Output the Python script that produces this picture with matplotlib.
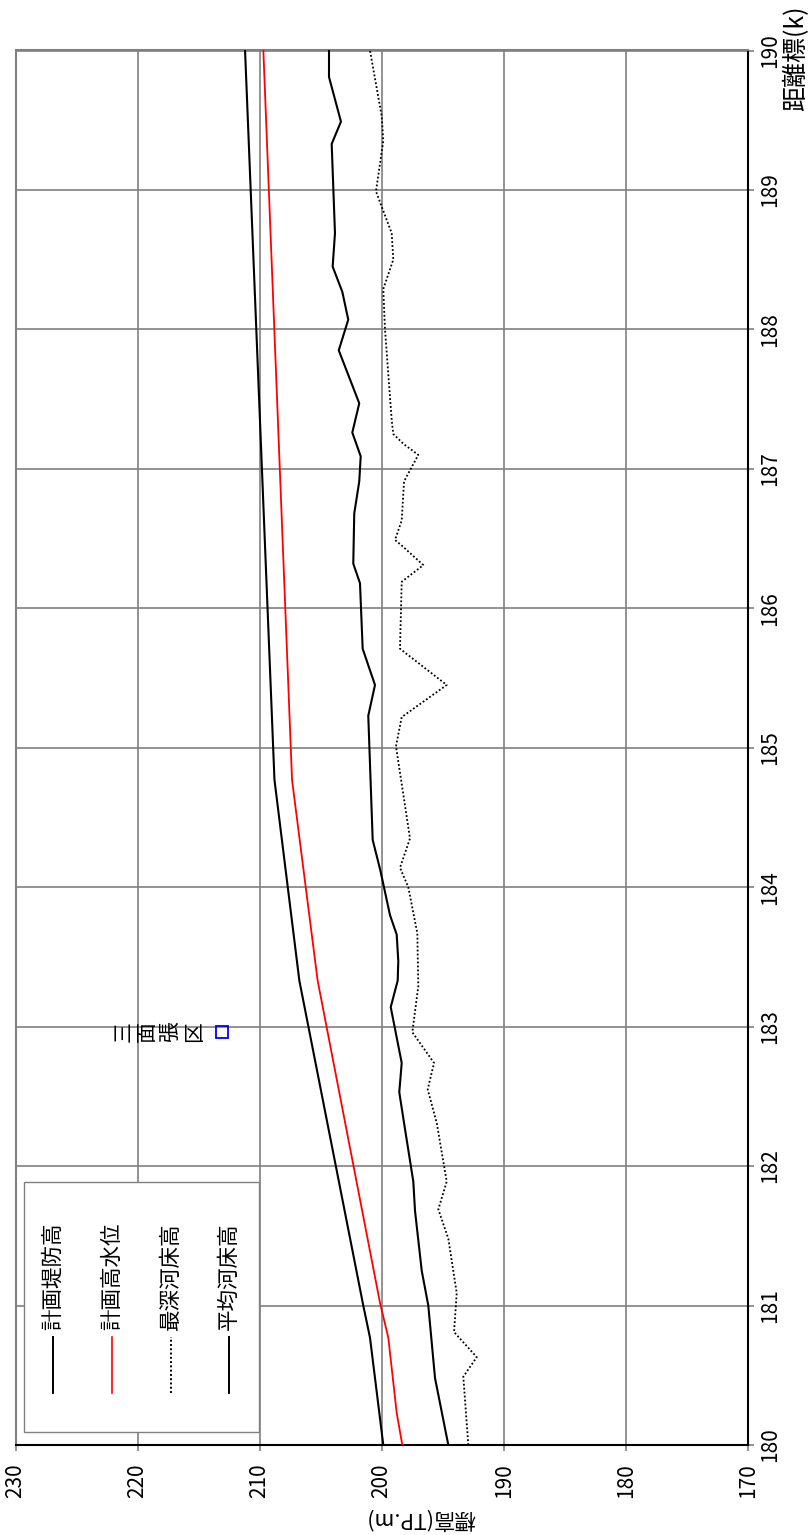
import matplotlib
matplotlib.use("Agg")
import matplotlib.pyplot as plt
from matplotlib.lines import Line2D
from matplotlib.patches import Rectangle
from matplotlib.transforms import offset_copy

plt.rcParams['font.family'] = ['Noto Sans CJK JP', 'DejaVu Sans']

# ---------------------------
# 縦断図データ (距離標 k / 標高 TP.m)
# ---------------------------
levee_km = [180.0, 180.77, 181.0, 183.33, 184.77, 190.0]
levee_el = [199.87, 200.96, 201.51, 206.75, 208.79, 211.20]

hwl_km = [180.0, 180.23, 180.77, 181.02, 183.33, 184.77, 190.0]
hwl_el = [198.31, 198.77, 199.46, 200.14, 205.25, 207.35, 209.70]

deep_km = [180.0, 180.49, 180.63, 180.81, 181.09, 181.48, 181.69, 181.89,
           182.31, 182.55, 182.74, 182.96, 183.29, 183.67, 184.0, 184.14,
           184.35, 185.01, 185.22, 185.45, 185.71, 186.19, 186.31, 186.44,
           186.49, 186.63, 186.91, 186.99, 187.10, 187.18, 187.25, 187.35,
           188.0, 188.29, 188.50, 188.69, 188.88, 188.99, 189.35, 189.53, 190.0]
deep_el = [192.90, 193.31, 192.21, 194.07, 193.85, 194.54, 195.36, 194.67,
           195.49, 196.23, 195.71, 197.49, 197.00, 197.08, 197.82, 198.50,
           197.68, 198.83, 198.36, 194.67, 198.50, 198.36, 196.59, 198.23,
           198.91, 198.36, 198.17, 197.68, 197.00, 198.23, 199.05, 199.18,
           199.73, 199.87, 199.05, 199.18, 200.00, 200.47, 199.87, 200.00, 200.96]

mean_km = [180.0, 180.48, 181.0, 181.25, 181.68, 181.89, 182.31, 182.53,
           182.74, 183.14, 183.33, 183.47, 183.66, 183.80, 184.12, 184.34,
           185.23, 185.45, 185.71, 186.18, 186.32, 186.68, 186.91, 187.09,
           187.26, 187.47, 187.85, 188.07, 188.27, 188.45, 188.69, 189.33,
           189.49, 189.81, 190.0]
mean_el = [194.54, 195.63, 196.18, 196.72, 197.27, 197.41, 198.17, 198.56,
           198.36, 199.26, 198.69, 198.64, 198.77, 199.32, 200.11, 200.74,
           201.10, 200.55, 201.56, 201.78, 202.33, 202.25, 201.84, 201.72,
           202.41, 201.84, 203.52, 202.74, 203.23, 204.02, 203.83, 204.10,
           203.34, 204.32, 204.32]

mark_km = [182.96]
mark_el = [213.05]
mark_label = "三面張区"

legend_names = ["計画堤防高", "計画高水位", "最深河床高", "平均河床高"]
legend_colors = ["black", "red", "black", "black"]
legend_styles = ["-", "-", (0, (1, 1.2)), "-"]

elev_ticks = list(range(170, 231, 10))
dist_ticks = list(range(180, 191))

# ---------------------------
# Figure (図は90度回転した向きで描く)
# ---------------------------
W, H = 811, 1535
fig = plt.figure(figsize=(W / 100, H / 100), dpi=100)


def fx(x):
    return x / W


def fy(y):
    return 1 - y / H


ax = fig.add_axes([fx(15.7), fy(1445), 732 / W, 1394.5 / H])

ax.plot(levee_el, levee_km, color="black", lw=1.5, zorder=3)
ax.plot(hwl_el, hwl_km, color="red", lw=1.3, zorder=3)
ax.plot(deep_el, deep_km, color="black", lw=1.3, ls=(0, (1, 1.2)), zorder=3)
ax.plot(mean_el, mean_km, color="black", lw=1.5, zorder=3)

ax.plot(mark_el, mark_km, ls="none", marker="s", ms=8, mfc="none",
        mec="blue", mew=1.3, zorder=4)
# 縦書きラベル: 一文字ずつ回転して並べる
for i, ch in enumerate(mark_label):
    tr = offset_copy(ax.transData, fig=fig, x=-99 + 23.5 * i, y=1,
                     units="dots")
    ax.text(mark_el[0], mark_km[0], ch, transform=tr, rotation=90,
            ha="center", va="center", fontsize=15)

ax.set_xlim(230, 170)
ax.set_ylim(180, 190)
ax.set_xticks(elev_ticks)
ax.set_yticks(dist_ticks)
ax.yaxis.tick_right()
ax.grid(True, color="#808080", lw=1.2)
ax.set_axisbelow(True)
ax.tick_params(axis="both", direction="out", length=4.5, width=1.2,
               color="#808080", labelsize=15)
ax.tick_params(axis="x", pad=8.5, labelrotation=90)
ax.tick_params(axis="y", pad=4, labelrotation=90)
for t in ax.yaxis.get_major_ticks():
    t.label2.set_va("center")

for side in ["right", "bottom"]:
    ax.spines[side].set_color("black")
    ax.spines[side].set_linewidth(1.5)
for side in ["top", "left"]:
    ax.spines[side].set_color("#808080")
    ax.spines[side].set_linewidth(1.5)

# 凡例 (回転表示のため手組み)
box = Rectangle((fx(24.3), fy(1431.7)), (259 - 24.3) / W, (1431.7 - 1182.3) / H,
                transform=fig.transFigure, fc="white", ec="#808080", lw=1,
                zorder=5)
fig.add_artist(box)
for i, name in enumerate(legend_names):
    x = 53.3 + 58.6 * i
    fig.add_artist(Line2D([fx(x), fx(x)], [fy(1393.3), fy(1336.7)],
                          transform=fig.transFigure, color=legend_colors[i],
                          ls=legend_styles[i],
                          lw=1.2 if legend_colors[i] == "red" else 1.4,
                          zorder=6))
    fig.text(fx(x), fy(1330), name, rotation=90, ha="center", va="bottom",
             fontsize=15.5, zorder=6)

fig.text(fx(420), fy(1518), "標高(TP.m)", rotation=180, ha="center",
         va="center", fontsize=15.5)
fig.text(fx(796), fy(58), "距離標(k)", rotation=90, ha="center",
         va="center", fontsize=18)

fig.savefig("out.png", dpi=100)
